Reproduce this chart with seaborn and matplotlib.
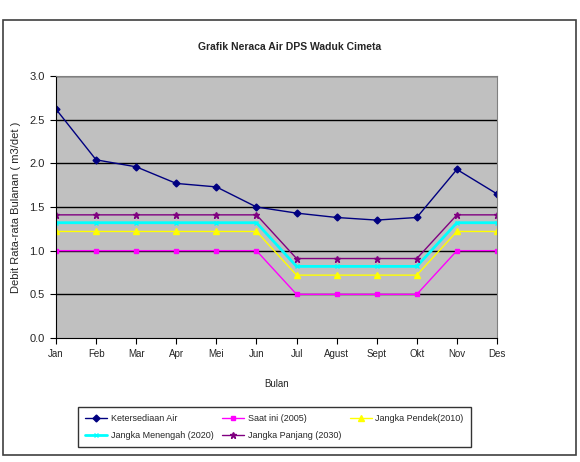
import numpy as np
import pandas as pd
import matplotlib
matplotlib.use("Agg")
import matplotlib.pyplot as plt
import seaborn as sns
from matplotlib.patches import Rectangle

months = ["Jan", "Feb", "Mar", "Apr", "Mei", "Jun", "Jul", "Agust", "Sept", "Okt", "Nov", "Des"]
ketersediaan = [2.62, 2.04, 1.96, 1.77, 1.73, 1.50, 1.43, 1.38, 1.35, 1.38, 1.93, 1.65]
saat_ini = [1.0, 1.0, 1.0, 1.0, 1.0, 1.0, 0.5, 0.5, 0.5, 0.5, 1.0, 1.0]
jangka_pendek = [1.22, 1.22, 1.22, 1.22, 1.22, 1.22, 0.72, 0.72, 0.72, 0.72, 1.22, 1.22]
jangka_menengah = [1.32, 1.32, 1.32, 1.32, 1.32, 1.32, 0.82, 0.82, 0.82, 0.82, 1.32, 1.32]
jangka_panjang = [1.41, 1.41, 1.41, 1.41, 1.41, 1.41, 0.91, 0.91, 0.91, 0.91, 1.41, 1.41]
yticks = [0.0, 0.5, 1.0, 1.5, 2.0, 2.5, 3.0]

sns.set_theme(style="white")
plt.rcParams['font.family'] = ['Liberation Sans', 'DejaVu Sans']

fig = plt.figure(figsize=(5.8, 4.62), dpi=100)
fig.patch.set_facecolor("white")
fig.add_artist(Rectangle((3 / 580, 1 - 455 / 462), 573 / 580, 435 / 462,
                         transform=fig.transFigure, fill=False,
                         edgecolor="#404040", linewidth=1.2))

ax = fig.add_axes([56 / 580, 1 - 338 / 462, 441 / 580, 262 / 462])
ax.set_facecolor("#C0C0C0")

x = np.arange(len(months))
series = [
    ("Ketersediaan Air", ketersediaan, "#000080", "D", 3.5, 1.0),
    ("Saat ini (2005)", saat_ini, "#FF00FF", "s", 3.5, 1.0),
    ("Jangka Pendek(2010)", jangka_pendek, "#FFFF00", "^", 4.5, 1.0),
    ("Jangka Menengah (2020)", jangka_menengah, "#00FFFF", "x", 3.5, 2.0),
    ("Jangka Panjang (2030)", jangka_panjang, "#800080", "*", 4.5, 1.0),
]
for name, vals, col, mk, ms, lw in series:
    sns.lineplot(x=x, y=vals, ax=ax, color=col, marker=mk, markersize=ms,
                 markeredgecolor=col, markeredgewidth=1, linewidth=lw, label=name)

for v in yticks[1:]:
    ax.axhline(v, color="black", linewidth=1.0, zorder=0.5)

ax.set_xlim(0, 11)
ax.set_ylim(0, 3.0)
ax.set_yticks(yticks)
ax.set_yticklabels([f"{v:.1f}" for v in yticks], fontsize=8)
ax.set_xticks(x)
ax.set_xticklabels(months, fontsize=7)
ax.tick_params(axis="both", direction="out", length=4, width=0.8, color="black",
               bottom=True, left=True, pad=4)
for s in ["left", "bottom"]:
    ax.spines[s].set_color("black")
    ax.spines[s].set_linewidth(0.8)
for s in ["top", "right"]:
    ax.spines[s].set_color("#808080")
    ax.spines[s].set_linewidth(0.8)

ax.set_xlabel("Bulan", fontsize=7, labelpad=14)
ax.set_ylabel("Debit Rata-rata Bulanan ( m3/det )", fontsize=8, labelpad=6)
fig.text(0.5, 1 - 47 / 462, "Grafik Neraca Air DPS Waduk Cimeta", ha="center", va="center",
         fontsize=7.5, fontweight="bold")

ax.get_legend().remove()
handles, labels = ax.get_legend_handles_labels()
order = [0, 3, 1, 4, 2]
leg = fig.legend([handles[i] for i in order], [labels[i] for i in order],
                 loc="center", bbox_to_anchor=((77 + 472) / 2 / 580, 1 - 427 / 462),
                 ncol=3, fontsize=6.5, frameon=True, fancybox=False,
                 edgecolor="black", handlelength=2.4, handletextpad=0.4,
                 columnspacing=1.0, borderpad=0.8, labelspacing=0.9)
leg.get_frame().set_linewidth(1.0)

fig.savefig("out.png", dpi=100)
